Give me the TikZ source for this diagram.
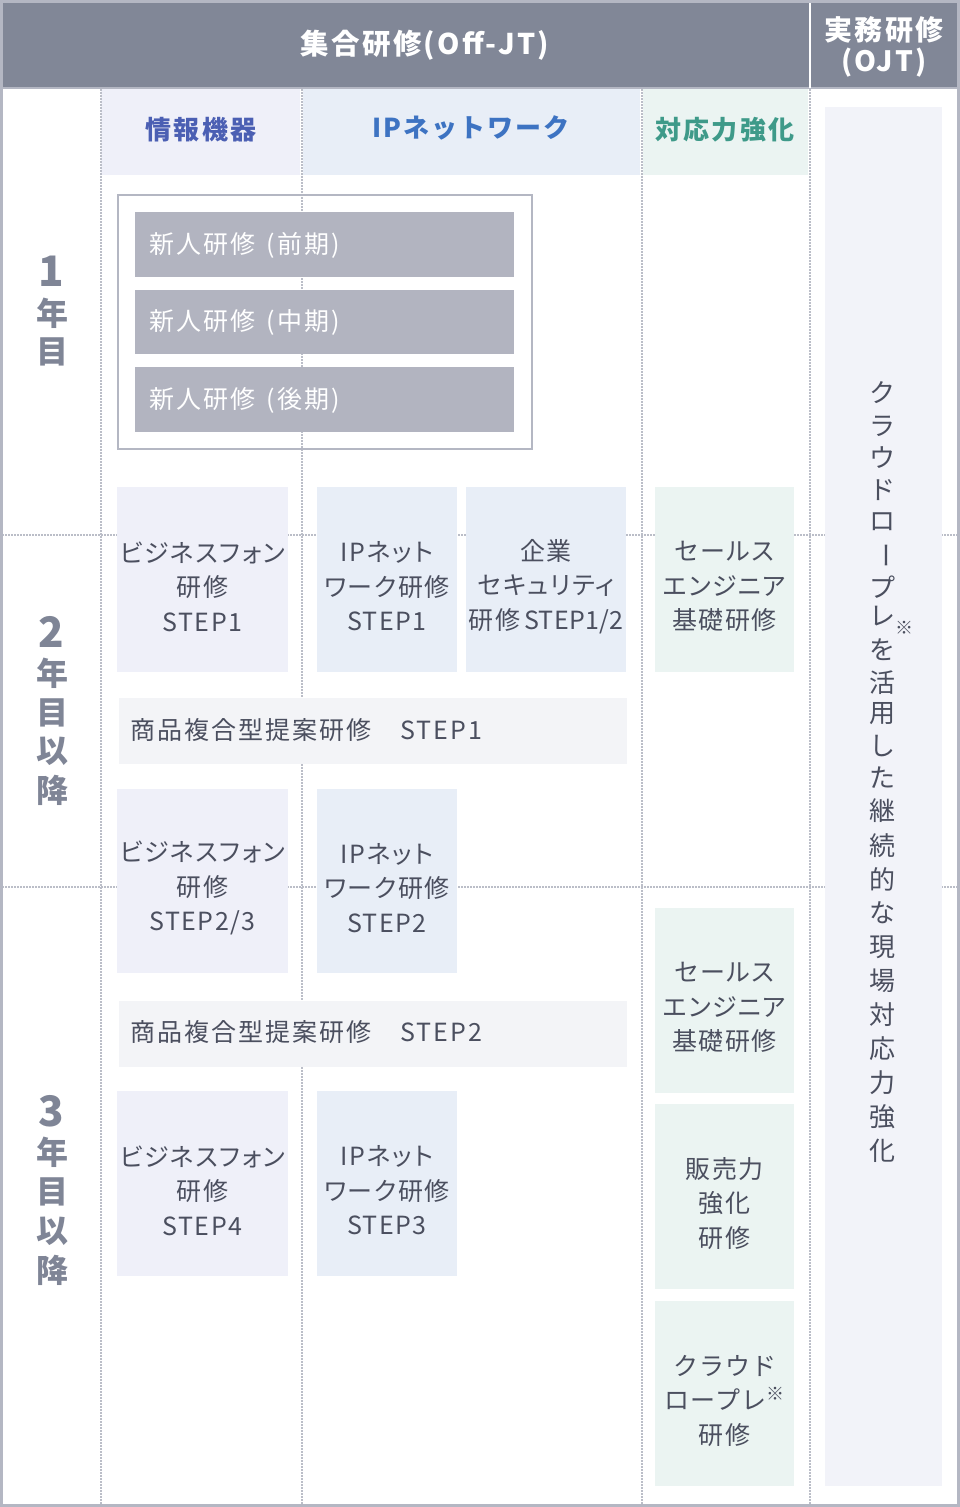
\documentclass[tikz,border=0pt]{standalone}
\usepackage{fontspec}
\setmainfont{Noto Sans CJK JP}
\newfontfamily\jp[RawFeature=+palt,LetterSpace=6]{Noto Sans CJK JP}
\newfontfamily\jph[LetterSpace=8]{Noto Sans CJK JP}
\newfontfamily\jpn[LetterSpace=4]{Noto Sans CJK JP}
\definecolor{hdr}{HTML}{818797}
\definecolor{brd}{HTML}{B4B7C3}
\definecolor{yr}{HTML}{7F8596}
\definecolor{gbox}{HTML}{B2B4C0}
\definecolor{lav}{HTML}{EFF0F9}
\definecolor{lblue}{HTML}{E8EEF7}
\definecolor{lteal}{HTML}{EBF4F2}
\definecolor{lgray}{HTML}{F3F4F7}
\definecolor{ojt}{HTML}{F2F3F9}
\definecolor{txt}{HTML}{4B4F5F}
\definecolor{dotc}{HTML}{BBBEC8}
\definecolor{cblueA}{HTML}{4B5FB3}
\definecolor{cblueB}{HTML}{3D73C2}
\definecolor{ctealA}{HTML}{3E9A89}
% box node (fill) plus its text node, shifted a little down as in the reference
\newcommand\mybox[7]{%
  \node[#2, minimum width={(#5-#3)*1pt}, minimum height={(#6-#4)*1pt}] (#1) at ({(#3+#5)/2},{(#4+#6)/2}) {};
  \node[cell] (#1t) at ([yshift=-7pt]#1.center) {#7};}
\tikzset{
  x=1pt, y=-1pt,
  cell/.style={inner sep=0pt, align=center, text=txt, font=\jp\fontsize{25}{34.5}\selectfont},
  lavbox/.style={inner sep=0pt, fill=lav},
  bluebox/.style={inner sep=0pt, fill=lblue},
  tealbox/.style={inner sep=0pt, fill=lteal},
  rowtext/.style={anchor=west, inner sep=0pt, font=\jph\fontsize{25}{30}\selectfont},
  yrlabel/.style={inner sep=0pt, text=yr, font=\bfseries\fontsize{32}{32}\selectfont},
  yrnum/.style={inner sep=0pt, text=yr, font=\bfseries\fontsize{42}{42}\selectfont},
  colhead/.style={inner sep=0pt, font=\jph\bfseries\fontsize{26}{30}\selectfont},
  dotline/.style={draw=dotc, line width=1.5pt, dash pattern=on 1.5pt off 1.5pt},
  vt/.style={inner sep=0pt, text=txt, font=\fontsize{26}{26}\selectfont},
}
\begin{document}
\begin{tikzpicture}
\useasboundingbox (0,0) rectangle (960,1507);
\fill[white] (0,0) rectangle (960,1507);
% header band
\fill[hdr] (0,0) rectangle (960,88);
\draw[brd, line width=2pt] (0,88) -- (960,88);
\draw[white, line width=2pt] (810,0) -- (810,88);
\node[inner sep=0pt, text=white, font=\jph\bfseries\fontsize{28.5}{32}\selectfont] (h1) at (425,45) {集合研修(Off-JT)};
\node[inner sep=0pt, text=white, align=center, font=\jph\bfseries\fontsize{28}{31}\selectfont] (h2) at (884,47) {実務研修\\(OJT)};
% column headers
\fill[lav] (101,89) rectangle (300,175);
\fill[lblue] (303,89) rectangle (640,175);
\fill[lteal] (643,89) rectangle (808,175);
\node[colhead, text=cblueA] (c1) at (201,130) {情報機器};
\node[colhead, text=cblueB] (c2) at (471,128) {IPネットワーク};
\node[colhead, text=ctealA] (c3) at (725,130) {対応力強化};
% dotted lines
\draw[dotline] (101,89) -- (101,1504);
\draw[dotline] (302,89) -- (302,1504);
\draw[dotline] (642,89) -- (642,1504);
\draw[dotline] (810,89) -- (810,1504);
\draw[dotline] (2,535) -- (958,535);
\draw[dotline] (2,887) -- (958,887);
% OJT column
\fill[ojt] (825,107) rectangle (942,1486);
% year 1 group
\draw[brd, line width=2pt] (118,195) rectangle (532,449);
\fill[gbox] (135,212) rectangle (514,277);
\fill[gbox] (135,290) rectangle (514,354);
\fill[gbox] (135,367) rectangle (514,432);
\node[rowtext, text=white] (n1) at (149,245) {新人研修 \,(前期)};
\node[rowtext, text=white] (n2) at (149,322) {新人研修 \,(中期)};
\node[rowtext, text=white] (n3) at (149,400) {新人研修 \,(後期)};
% row 2
\mybox{bpA}{lavbox}{117}{487}{288}{672}{ビジネスフォン\\研修\\STEP1}
\mybox{ipA}{bluebox}{317}{487}{457}{672}{IPネット\\ワーク研修\\STEP1}
\mybox{sec}{bluebox}{466}{487}{626}{672}{企業\\セキュリティ\\研修{\addfontfeature{LetterSpace=1}\,STEP1/2}}
\mybox{seA}{tealbox}{655}{487}{794}{672}{セールス\\エンジニア\\基礎研修}
\fill[lgray] (119,698) rectangle (627,764);
\node[rowtext, text=txt] (spA) at (130,730) {商品複合型提案研修　STEP1};
% row 3
\mybox{bpB}{lavbox}{117}{789}{288}{973}{ビジネスフォン\\研修\\STEP2/3}
\mybox{ipB}{bluebox}{317}{789}{457}{973}{IPネット\\ワーク研修\\STEP2}
\mybox{seB}{tealbox}{655}{908}{794}{1093}{セールス\\エンジニア\\基礎研修}
\fill[lgray] (119,1001) rectangle (627,1067);
\node[rowtext, text=txt] (spB) at (130,1032) {商品複合型提案研修　STEP2};
% row 4
\mybox{bpC}{lavbox}{117}{1091}{288}{1276}{ビジネスフォン\\研修\\STEP4}
\mybox{ipC}{bluebox}{317}{1091}{457}{1276}{IPネット\\ワーク研修\\STEP3}
\mybox{hb}{tealbox}{655}{1104}{794}{1289}{販売力\\強化\\研修}
\mybox{cr}{tealbox}{655}{1301}{794}{1486}{{\jpn クラウド}\\{\jpn ロープレ}\raisebox{0.35em}{\fontsize{18}{18}\selectfont ※}\\研修}
% year labels
\node[yrnum] (y1n) at (51,271) {1};
\node[yrlabel] (y1a) at (52,313) {年};
\node[yrlabel] (y1b) at (52,352) {目};
\node[yrnum] (y2n) at (51,632) {2};
\node[yrlabel] (y2a) at (52,673) {年};
\node[yrlabel] (y2b) at (52,713) {目};
\node[yrlabel] (y2c) at (52,751) {以};
\node[yrlabel] (y2d) at (52,790) {降};
\node[yrnum] (y3n) at (51,1111) {3};
\node[yrlabel] (y3a) at (52,1152) {年};
\node[yrlabel] (y3b) at (52,1192) {目};
\node[yrlabel] (y3c) at (52,1231) {以};
\node[yrlabel] (y3d) at (52,1270) {降};
% vertical OJT text
\foreach \c/\yy [count=\i] in {ク/393,ラ/426,ウ/458,ド/490,ロ/522,プ/587,レ/616,を/650,活/683,用/714,し/746,た/778,継/811,続/846,的/879,な/913,現/947,場/981,対/1015,応/1049,力/1083,強/1117,化/1151}
  \node[vt] (v\i) at (882,\yy) {\c};
\node[vt, rotate=-90] (vbar) at (882,555) {ー};
\node[vt, font=\fontsize{18}{18}\selectfont] (vmark) at (904,628) {※};
% outer border
\draw[brd, line width=3pt] (1.5,1.5) rectangle (958.5,1505.5);
\end{tikzpicture}
\end{document}
